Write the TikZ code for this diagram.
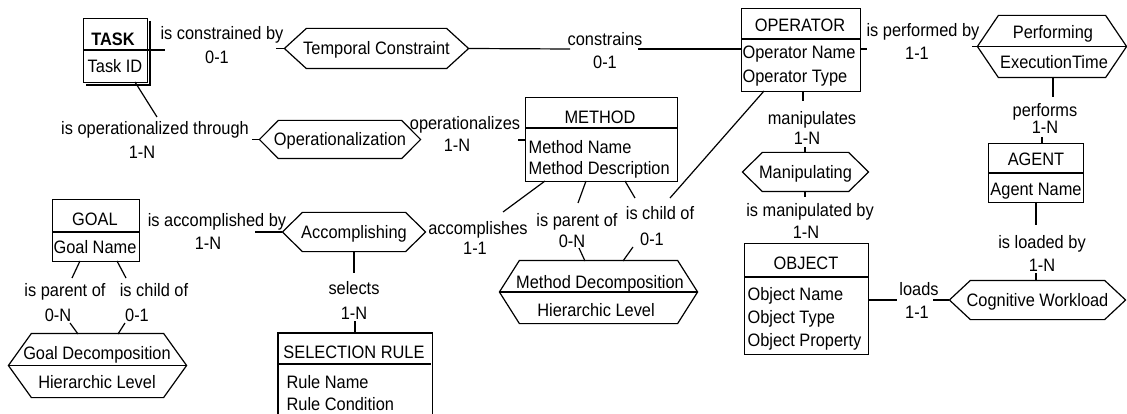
\documentclass[tikz,border=0pt]{standalone}
\usepackage{fontspec}
\setmainfont{Liberation Sans}[FakeStretch=0.91]
\newcommand\fsz{\fontsize{18pt}{21pt}\selectfont}
\newcommand\hexa[2]{\draw ([xshift=#2]#1.north west) -- ([xshift=-#2]#1.north east) -- (#1.east) -- ([xshift=-#2]#1.south east) -- ([xshift=#2]#1.south west) -- (#1.west) -- cycle;}
\begin{document}
\begin{tikzpicture}[x=1pt,y=-1pt, line width=1.2pt,
  txt/.style={inner sep=0pt, text height=13pt, text depth=0pt, font=\fsz},
  attr/.style={txt, anchor=west},
  ent/.style={draw, inner sep=0pt, anchor=north west},
  hexn/.style={inner sep=0pt, text height=13pt, text depth=0pt, font=\fsz},
]
\useasboundingbox (0,0) rectangle (1127,414);

% ---------- entities ----------
\node[ent, minimum width=64pt, minimum height=64pt] (task) at (83,18) {};
\draw (150,21) -- (150,85) -- (86,85);
\draw (83,50) -- (147,50);
\node[txt, font=\fsz\bfseries] (taskt) at (113,39) {TASK};
\node[txt] (taska) at (115,66) {Task ID};

\node[ent, minimum width=119pt, minimum height=83pt] (op) at (741,8) {};
\draw (741,39) -- (860,39);
\node[txt] (opt) at (800,25) {OPERATOR};
\node[attr] (opa1) at (742,52) {Operator Name};
\node[attr] (opa2) at (742,76) {Operator Type};

\node[ent, minimum width=152pt, minimum height=84pt] (me) at (525,97) {};
\draw (525,128) -- (677,128);
\node[txt] (met) at (600,117) {METHOD};
\node[attr] (mea1) at (528,147) {Method Name};
\node[attr] (mea2) at (528,168) {Method Description};

\node[ent, minimum width=95pt, minimum height=59pt] (ag) at (988,143) {};
\draw (988,173) -- (1083,173);
\node[txt] (agt) at (1036,159) {AGENT};
\node[txt] (aga) at (1036,189) {Agent Name};

\node[ent, minimum width=87pt, minimum height=62pt] (go) at (52,199) {};
\draw (52,232) -- (139,232);
\node[txt] (got) at (95,219) {GOAL};
\node[txt] (goa) at (95,247) {Goal Name};

\node[ent, minimum width=124pt, minimum height=111pt] (ob) at (744,243) {};
\draw (744,277) -- (868,277);
\node[txt] (obt) at (806,263) {OBJECT};
\node[attr] (oba1) at (747,294) {Object Name};
\node[attr] (oba2) at (747,317) {Object Type};
\node[attr] (oba3) at (747,340) {Object Property};

\node[inner sep=0pt, minimum width=153pt, minimum height=83pt, anchor=north west] (sr) at (278,333) {};
\draw (sr.south west) -- (sr.north west) -- (sr.north east) -- (sr.south east);
\draw (278,364) -- (431,364);
\node[txt] (srt) at (354,352) {SELECTION RULE};
\node[attr] (sra1) at (286,382) {Rule Name};
\node[attr] (sra2) at (286,404) {Rule Condition};

% ---------- relationships ----------
\node[hexn, minimum width=183pt, minimum height=39pt] (tc) at (376.5,48.5) {Temporal Constraint};
\hexa{tc}{22}
\node[hexn, minimum width=160pt, minimum height=37pt] (opz) at (340,139.5) {Operationalization};
\hexa{opz}{19}
\node[hexn, minimum width=148pt, minimum height=61pt] (perf) at (1052,46.5) {};
\hexa{perf}{21}
\draw (perf.west) -- (perf.east);
\node[txt] (perf1) at (1053,32) {Performing};
\node[txt] (perf2) at (1054,62) {ExecutionTime};
\node[hexn, minimum width=125pt, minimum height=38pt] (man) at (805.5,172) {Manipulating};
\hexa{man}{20}
\node[hexn, minimum width=142pt, minimum height=38pt] (acc) at (354,232) {Accomplishing};
\hexa{acc}{20}
\node[hexn, minimum width=175pt, minimum height=38pt] (cw) at (1037.5,300) {Cognitive Workload};
\hexa{cw}{21}
\node[hexn, minimum width=177pt, minimum height=63pt] (gd) at (97.5,365.5) {};
\hexa{gd}{23}
\draw (gd.west) -- (gd.east);
\node[txt] (gd1) at (97,353) {Goal Decomposition};
\node[txt] (gd2) at (97,382) {Hierarchic Level};
\node[hexn, minimum width=197pt, minimum height=62pt] (md) at (598.5,292) {};
\hexa{md}{20}
\draw (md.west) -- (md.east);
\node[txt] (md1) at (600,282) {Method Decomposition};
\node[txt] (md2) at (596,310) {Hierarchic Level};

% ---------- connectors and labels ----------
% TASK - Temporal Constraint
\draw (147,50) -- (165,50);
\node[txt] (l1a) at (222,33) {is constrained by};
\node[txt] (l1b) at (217,57) {0-1};
\draw (276,48.5) -- (tc.west);
% Temporal Constraint - OPERATOR
\draw (tc.east) -- (570,49);
\node[txt] (l2a) at (605,39) {constrains};
\node[txt] (l2b) at (605,62) {0-1};
\draw (638,49) -- (741,49);
% TASK - Operationalization
\draw (135,82) -- (157,117);
\node[txt] (l3a) at (155,128) {is operationalized through};
\node[txt] (l3b) at (142,152) {1-N};
\draw (252,139.5) -- (opz.west);
% Operationalization - METHOD
\node[txt] (l4a) at (465,123) {operationalizes};
\node[txt] (l4b) at (457,145) {1-N};
\draw (518,140) -- (525,140);
% OPERATOR - Performing
\draw (860,49) -- (867,49);
\node[txt] (l5a) at (923,30) {is performed by};
\node[txt] (l5b) at (917,53) {1-1};
\draw (972,46.5) -- (perf.west);
% Performing - AGENT
\draw (1053,77) -- (1053,97);
\node[txt] (l6a) at (1045,110) {performs};
\node[txt] (l6b) at (1045,127) {1-N};
\draw (1042,137) -- (1042,143);
% AGENT - Cognitive Workload
\draw (1036,202) -- (1036,225);
\node[txt] (l7a) at (1042,242) {is loaded by};
\node[txt] (l7b) at (1042,265) {1-N};
\draw (1036,273) -- (cw.north -| 1036,0);
% OBJECT - Cognitive Workload
\draw (868,300) -- (897,300);
\node[txt] (l8a) at (919,289) {loads};
\node[txt] (l8b) at (917,312) {1-1};
\draw (933,300) -- (cw.west);
% OPERATOR - Manipulating
\draw (803,91) -- (803,101);
\node[txt] (l9a) at (812,118) {manipulates};
\node[txt] (l9b) at (807,138) {1-N};
\draw (805,147) -- (805,153);
% Manipulating - OBJECT
\draw (805,191) -- (805,197);
\node[txt] (l10a) at (810,210) {is manipulated by};
\node[txt] (l10b) at (806,232) {1-N};
% GOAL - Accomplishing
\node[txt] (l11a) at (217,220) {is accomplished by};
\node[txt] (l11b) at (208,243) {1-N};
\draw (255,232) -- (acc.west);
% Accomplishing - METHOD
\node[txt] (l12a) at (478,228) {accomplishes};
\node[txt] (l12b) at (475,248) {1-1};
\draw (503,212) -- (545,181);
% Accomplishing - SELECTION RULE
\draw (354,251) -- (354,273);
\node[txt] (l13a) at (354,288) {selects};
\node[txt] (l13b) at (354,313) {1-N};
\draw (355,321) -- (355,333);
% GOAL - Goal Decomposition
\draw (80,261) -- (72,278);
\node[txt] (l14a) at (65,290) {is parent of};
\node[txt] (l14b) at (58,315) {0-N};
\draw (70,323) -- (78,334);
\draw (117,261) -- (126,278);
\node[txt] (l15a) at (154,290) {is child of};
\node[txt] (l15b) at (137,315) {0-1};
\draw (125,323) -- (118,334);
% METHOD - Method Decomposition
\draw (586,181) -- (578,203);
\node[txt] (l16a) at (577,220) {is parent of};
\node[txt] (l16b) at (572,241) {0-N};
\draw (579,248) -- (585,261);
\draw (625,181) -- (635,198);
\node[txt] (l17a) at (660,213) {is child of};
\node[txt] (l17b) at (652,239) {0-1};
\draw (633,247) -- (623,261);
% OPERATOR - is child of
\draw (764,91) -- (670,198);
\end{tikzpicture}
\end{document}
